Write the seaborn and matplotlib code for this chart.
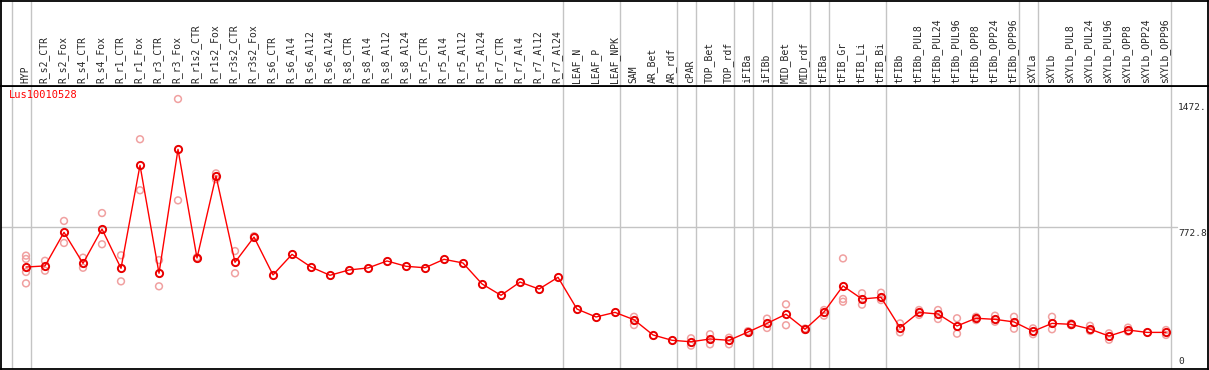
import numpy as np
import pandas as pd
import matplotlib
matplotlib.use("Agg")
import matplotlib.pyplot as plt
import seaborn as sns

# samples (column order as in the reference)
samples = ["HYP", "R_s2_CTR", "R_s2_Fox", "R_s4_CTR", "R_s4_Fox", "R_r1_CTR", "R_r1_Fox",
           "R_r3_CTR", "R_r3_Fox", "R_r1s2_CTR", "R_r1s2_Fox", "R_r3s2_CTR", "R_r3s2_Fox",
           "R_s6_CTR", "R_s6_Al4", "R_s6_Al12", "R_s6_Al24", "R_s8_CTR", "R_s8_Al4",
           "R_s8_Al12", "R_s8_Al24", "R_r5_CTR", "R_r5_Al4", "R_r5_Al12", "R_r5_Al24",
           "R_r7_CTR", "R_r7_Al4", "R_r7_Al12", "R_r7_Al24", "LEAF_N", "LEAF_P", "LEAF_NPK",
           "SAM", "AR_Bet", "AR_rdf", "cPAR", "TOP_Bet", "TOP_rdf", "iFIBa", "iFIBb",
           "MID_Bet", "MID_rdf", "tFIBa", "tFIB_Gr", "tFIB_Li", "tFIB_Bi", "tFIBb",
           "tFIBb_PUL8", "tFIBb_PUL24", "tFIBb_PUL96", "tFIBb_OPP8", "tFIBb_OPP24",
           "tFIBb_OPP96", "sXYLa", "sXYLb", "sXYLb_PUL8", "sXYLb_PUL24", "sXYLb_PUL96",
           "sXYLb_OPP8", "sXYLb_OPP24", "sXYLb_OPP96"]

# mean expression per sample
means = [557, 563, 746, 577, 764, 550, 1111, 523, 1198, 606, 1053, 583, 720,
         514, 626, 557, 512, 541, 552, 590, 561, 553, 599, 579, 465, 403, 475, 437, 501,
         328, 285, 310, 270, 187, 158, 150, 165, 158, 203, 250, 300, 218, 312, 454, 383,
         392, 227, 310, 301, 236, 278, 272, 258, 207, 250, 245, 219, 181, 214, 201, 201]

# replicate values (empty = none shown)
reps = [[619, 601, 530, 468], [591, 537], [808, 688], [608, 553], [851, 681], [621, 479],
        [1253, 975], [595, 452], [1472, 920], [604, 610], [1067, 1035], [644, 523], [725, 716],
        [], [], [], [], [], [], [], [], [], [], [], [], [], [], [], [], [], [], [],
        [286, 241], [], [], [169, 129], [191, 136], [172, 136], [208, 198], [276, 225],
        [354, 240], [222, 214], [323, 292], [604, 383, 368], [414, 352], [417, 377],
        [250, 201], [323, 296], [323, 274], [278, 194], [286, 268], [292, 259], [286, 221],
        [223, 191], [286, 218], [250, 240], [237, 209], [196, 161], [227, 205], [], [214, 187]]

# group separators (after these columns)
breaks = [-1, 0, 28, 31, 34, 35, 37, 38, 39, 41, 42, 45, 52, 53, 60]

gene = "Lus10010528"
ymax = 1545.6
yticks = [0, 772.8, 1472.]
ytick_labels = ["0", "772.8", "1472."]

sns.set_style("white")
plt.rcParams["font.family"] = ["DejaVu Sans Mono"]

x = np.arange(len(samples))
df_mean = pd.DataFrame({"x": x, "value": means})
df_rep = pd.DataFrame([(i, v) for i, vals in enumerate(reps) for v in vals], columns=["x", "value"])

W, H = 1209, 370
fig = plt.figure(figsize=(W / 100, H / 100), dpi=100)
left = 1 / W
width = 1207 / W
ax = fig.add_axes([left, 0.7 / H, width, 283.8 / H])
hax = fig.add_axes([left, (H - 85.5) / H, width, 84.5 / H])

x0 = -25 / 19
x1 = x0 + 1207 / 19

for a in (ax, hax):
    a.set_xlim(x0, x1)
    a.set_xticks([])
    a.set_yticks([])
    for s in a.spines.values():
        s.set_color("black")
        s.set_linewidth(1.3)
    for b in breaks:
        a.axvline(b + 0.25, color="#c4c4c4", lw=1, zorder=0)
hax.set_ylim(0, 1)

ax.set_ylim(0, ymax)
ax.axhline(yticks[1], xmax=(1177 - 1) / 1207, color="#c4c4c4", lw=1, zorder=0)

# replicates then means
sns.scatterplot(data=df_rep, x="x", y="value", ax=ax, marker="o", s=24,
                facecolors="none", edgecolor="#f0a0a0", linewidth=1.1, zorder=2)
sns.lineplot(data=df_mean, x="x", y="value", ax=ax, color="red", lw=1, marker="o",
             markersize=5.2, markerfacecolor="none", markeredgecolor="#e80000",
             markeredgewidth=1.4, zorder=3)
ax.set_xlabel("")
ax.set_ylabel("")
ax.set_xlim(x0, x1)
ax.set_ylim(0, ymax)

# header labels
for i, name in enumerate(samples):
    hax.text(i - 0.05, 0.03, name, rotation=90, ha="center", va="bottom", fontsize=7)

# value labels on the right
tx = (1178 - 1) / 1207
ax.text(tx, yticks[2] - 20, ytick_labels[2], transform=ax.get_yaxis_transform(),
        ha="left", va="top", fontsize=6.8)
ax.text(tx, yticks[1] - 8, ytick_labels[1], transform=ax.get_yaxis_transform(),
        ha="left", va="top", fontsize=6.8)
ax.text(tx, 18, ytick_labels[0], transform=ax.get_yaxis_transform(),
        ha="left", va="bottom", fontsize=6.8)

ax.text(8 / 1207, 0.965, gene, transform=ax.transAxes, color="red",
        ha="left", va="center", fontsize=7.5)

fig.savefig("out.png", dpi=100)
